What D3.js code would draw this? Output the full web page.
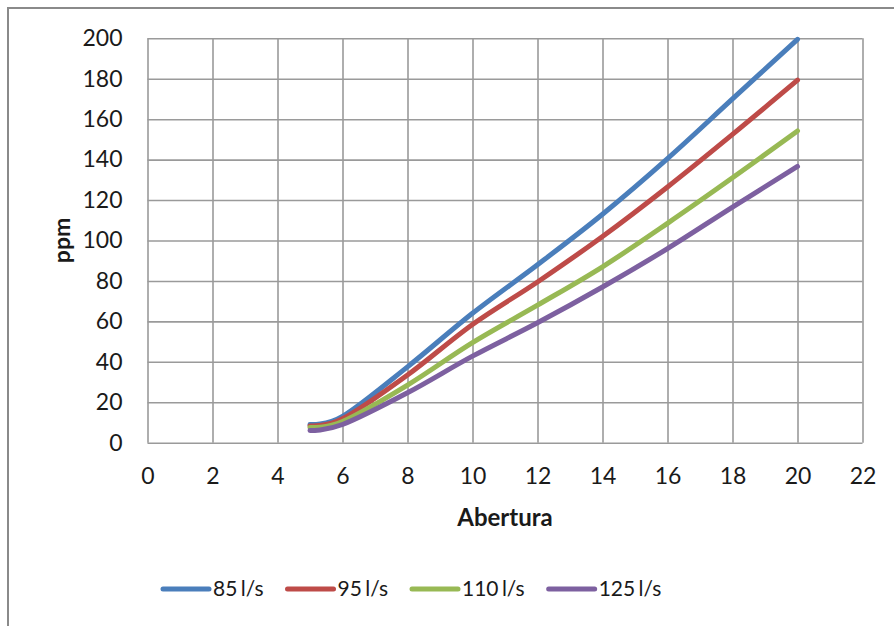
<!DOCTYPE html>
<html>
<head>
<meta charset="utf-8">
<script src="https://cdn.jsdelivr.net/npm/d3@7"></script>
<style>
  html, body { margin: 0; padding: 0; background: #fff; }
  svg { display: block; font-family: Lato, "Open Sans", sans-serif; }
</style>
</head>
<body>
<svg id="chart" width="894" height="626"></svg>
<script>
// Abertura values (x) shared by every series
const abertura = [5, 6, 8, 10, 12, 14, 16, 18, 20];

// ppm per flow rate
const ppm85  = [9.0, 13.0, 37.5, 64.0, 88.0, 113.0, 140.5, 170.0, 199.5];
const ppm95  = [8.3, 11.8, 33.5, 58.5, 79.5, 102.0, 126.5, 152.5, 179.3];
const ppm110 = [7.5, 10.5, 28.5, 49.5, 68.0, 87.0, 108.5, 131.0, 154.2];
const ppm125 = [6.0,  9.0, 24.7, 42.8, 59.3, 77.0,  96.0, 116.5, 136.6];

const seriesNames = ["85 l/s", "95 l/s", "110 l/s", "125 l/s"];
const seriesValues = [ppm85, ppm95, ppm110, ppm125];
const seriesColors = ["#4a7ebb", "#be4b48", "#98b954", "#7d60a0"];

const xTicks = [0, 2, 4, 6, 8, 10, 12, 14, 16, 18, 20, 22];
const yTicks = [0, 20, 40, 60, 80, 100, 120, 140, 160, 180, 200];

const svg = d3.select("#chart");

// outer chart frame (extends past the right and bottom edges)
svg.append("rect")
  .attr("x", 8).attr("y", 8)
  .attr("width", 1000).attr("height", 1000)
  .attr("fill", "#fff")
  .attr("stroke", "#8a8a8a").attr("stroke-width", 2);

const plot = { left: 147.5, right: 862.5, top: 38.3, bottom: 442.7 };

const x = d3.scaleLinear().domain([0, 22]).range([plot.left, plot.right]);
const y = d3.scaleLinear().domain([0, 200]).range([plot.bottom, plot.top]);

const gridColor = "#9a9a9a";

// vertical grid lines
svg.append("g")
  .attr("transform", `translate(0,${plot.bottom})`)
  .call(d3.axisBottom(x).tickValues(xTicks).tickSize(-(plot.bottom - plot.top)).tickFormat(""))
  .call(g => g.select(".domain").remove())
  .call(g => g.selectAll("line").attr("stroke", gridColor).attr("stroke-width", 1.6));

// horizontal grid lines
svg.append("g")
  .attr("transform", `translate(${plot.left},0)`)
  .call(d3.axisLeft(y).tickValues(yTicks).tickSize(-(plot.right - plot.left)).tickFormat(""))
  .call(g => g.select(".domain").remove())
  .call(g => g.selectAll("line").attr("stroke", gridColor).attr("stroke-width", 1.6));

// tick labels
svg.append("g")
  .attr("transform", `translate(0,${plot.bottom})`)
  .call(d3.axisBottom(x).tickValues(xTicks).tickSize(0).tickPadding(25))
  .call(g => g.select(".domain").remove())
  .call(g => g.selectAll("text").attr("font-family", "Lato, sans-serif")
    .attr("font-size", 23).attr("fill", "#1a1a1a"));

svg.append("g")
  .attr("transform", `translate(${plot.left},0)`)
  .call(d3.axisLeft(y).tickValues(yTicks).tickSize(0).tickPadding(25))
  .call(g => g.select(".domain").remove())
  .call(g => g.selectAll("text").attr("font-family", "Lato, sans-serif")
    .attr("font-size", 23).attr("fill", "#1a1a1a"));

// axis titles
svg.append("text")
  .attr("x", (plot.left + plot.right) / 2).attr("y", 526)
  .attr("text-anchor", "middle")
  .attr("font-size", 24).attr("font-weight", "bold").attr("fill", "#1a1a1a")
  .text("Abertura");

svg.append("text")
  .attr("transform", `translate(70,${(plot.top + plot.bottom) / 2}) rotate(-90)`)
  .attr("text-anchor", "middle")
  .attr("font-size", 23).attr("font-weight", "bold").attr("fill", "#1a1a1a")
  .text("ppm");

// smoothed series lines
const line = d3.line()
  .x(d => x(d[0]))
  .y(d => y(d[1]))
  .curve(d3.curveCardinal.tension(0));

seriesValues.forEach((vals, i) => {
  svg.append("path")
    .datum(abertura.map((a, j) => [a, vals[j]]))
    .attr("fill", "none")
    .attr("stroke", seriesColors[i])
    .attr("stroke-width", 5)
    .attr("stroke-linejoin", "round")
    .attr("stroke-linecap", "round")
    .attr("d", line);
});

// legend
const legend = svg.append("g").attr("transform", "translate(163,589)");
let cursor = 0;
seriesNames.forEach((name, i) => {
  const item = legend.append("g").attr("transform", `translate(${cursor},0)`);
  item.append("line")
    .attr("x1", 0).attr("x2", 46).attr("y1", 0).attr("y2", 0)
    .attr("stroke", seriesColors[i]).attr("stroke-width", 5)
    .attr("stroke-linecap", "round");
  const t = item.append("text")
    .attr("x", 50).attr("y", 0).attr("dy", "0.35em")
    .attr("font-size", 21).attr("word-spacing", -2).attr("fill", "#1a1a1a")
    .text(name);
  cursor += 50 + t.node().getComputedTextLength() + 24;
});
</script>
</body>
</html>
